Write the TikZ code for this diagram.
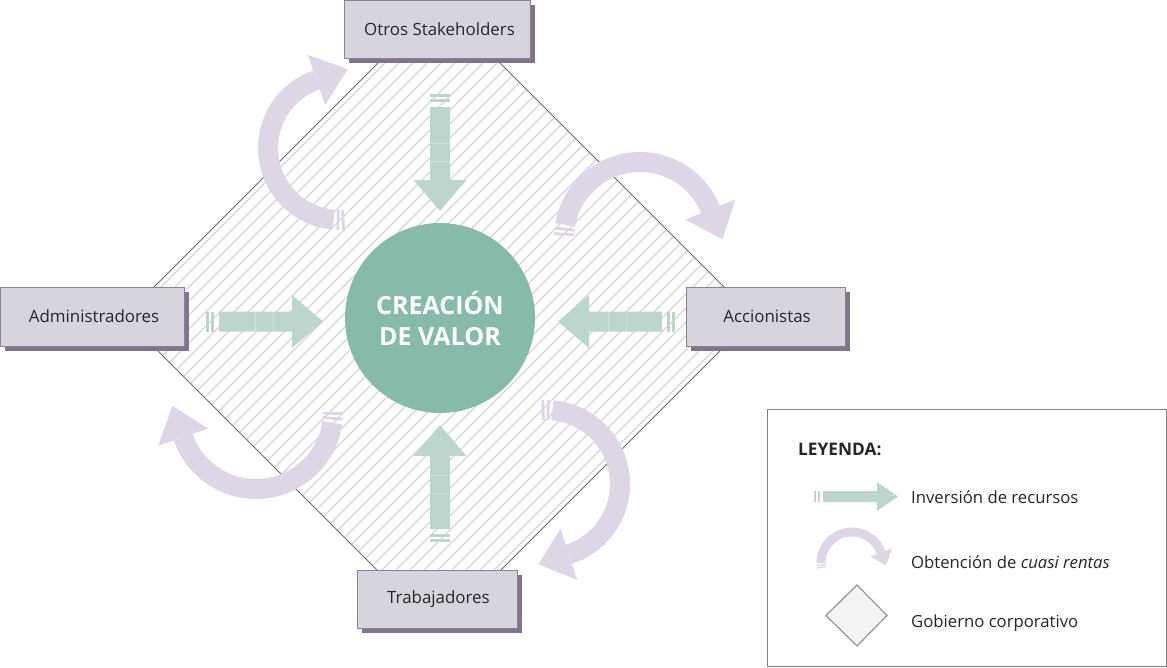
\documentclass[tikz,border=0pt]{standalone}
\usepackage{fontspec}
\setmainfont{Open Sans}
\usetikzlibrary{shadows}
\definecolor{boxfill}{RGB}{216,212,221}
\definecolor{boxdraw}{RGB}{140,128,150}
\definecolor{boxshadow}{RGB}{128,115,138}
\definecolor{invgreen}{RGB}{188,214,206}
\definecolor{cuasicol}{RGB}{222,213,230}
\definecolor{valorgreen}{RGB}{134,187,169}
\definecolor{hatchcol}{RGB}{214,214,214}
\definecolor{diamondline}{RGB}{105,105,115}
\definecolor{legline}{RGB}{128,128,128}
\definecolor{legdiam}{RGB}{150,145,155}
\definecolor{legdiamfill}{RGB}{243,243,243}
\definecolor{txt}{RGB}{38,38,38}
\tikzset{
  stakebox/.style={draw=boxdraw, line width=1pt, fill=boxfill, minimum height=58pt,
    inner sep=0pt, font=\fontsize{16.9}{20}\selectfont, text=txt,
    drop shadow={shadow xshift=5pt, shadow yshift=-5pt, fill=boxshadow, opacity=1}},
  legtext/.style={anchor=base west, inner sep=0pt, text=txt, font=\fontsize{16.7}{20}\selectfont},
  pics/invarrow/.style={code={
    \fill[invgreen] (0,-10) rectangle (3,10);
    \fill[invgreen] (5,-10) rectangle (8,10);
    \fill[invgreen] (13,-10) -- (86,-10) -- (86,-26.5) -- (117,0) -- (86,26.5) -- (86,10) -- (13,10) -- cycle;
    \draw[white, opacity=0.3, line width=0.6pt] (49,-10) -- (49,10) (67,-10) -- (67,10);
  }},
}
% #1 cx, #2 cy, #3 r, #4 start, #5 end, #6 band width, #7 head width, #8 head length
\newcommand\cuasiarc[8]{%
  \draw[cuasicol, line width=#6] ({#1+#3*cos(#4)},{#2+#3*sin(#4)}) arc[start angle=#4, end angle=#5, radius=#3];
  \fill[cuasicol] ({#1+(#3+#7/2)*cos(#5)},{#2+(#3+#7/2)*sin(#5)})
     -- ({#1+(#3-#7/2)*cos(#5)},{#2+(#3-#7/2)*sin(#5)})
     -- ({#1+#3*cos(#5)+#8*sin(#5)},{#2+#3*sin(#5)-#8*cos(#5)}) -- cycle;
  \draw[cuasicol, line width=#6/7] ({#1+(#3-#6/2)*cos(#4+#6*0.22*57.3/#3)},{#2+(#3-#6/2)*sin(#4+#6*0.22*57.3/#3)})
     -- ({#1+(#3+#6/2)*cos(#4+#6*0.22*57.3/#3)},{#2+(#3+#6/2)*sin(#4+#6*0.22*57.3/#3)});
  \draw[cuasicol, line width=#6/7] ({#1+(#3-#6/2)*cos(#4+#6*0.47*57.3/#3)},{#2+(#3-#6/2)*sin(#4+#6*0.47*57.3/#3)})
     -- ({#1+(#3+#6/2)*cos(#4+#6*0.47*57.3/#3)},{#2+(#3+#6/2)*sin(#4+#6*0.47*57.3/#3)});
}
\begin{document}
\begin{tikzpicture}[x=1pt,y=1pt]
\useasboundingbox (0,0) rectangle (1167,-667);
% gobierno corporativo (diamond with hatching)
\begin{scope}
  \clip (439,-2) -- (754,-317) -- (439,-632) -- (124,-317) -- cycle;
  \foreach \s in {-47,...,47}
    \draw[hatchcol, line width=1.3pt] ({439+7*\s-400},{-317-7*\s-400}) -- ++(800,800);
\end{scope}
\draw[diamondline, line width=0.9pt] (439,-2) -- (754,-317) -- (439,-632) -- (124,-317) -- cycle;
% centre
\node[circle, fill=valorgreen, minimum size=190pt, inner sep=0pt, text=white,
      font=\bfseries\fontsize{25}{31}\selectfont, align=center] (valor) at (440,-318) {CREACIÓN\\DE VALOR};
% inversion arrows
\pic at (206,-321.5) {invarrow};
\pic[rotate=180] at (675,-321.5) {invarrow};
\pic[rotate=-90] at (440,-94) {invarrow};
\pic[rotate=90] at (440,-542) {invarrow};
% cuasi rentas arrows
\cuasiarc{340}{-148}{72}{265}{109}{20}{53}{33}
\cuasiarc{640}{-238}{76}{170}{22}{20}{54}{32}
\cuasiarc{546}{-484}{74}{85}{-72}{20}{54}{32}
\cuasiarc{256}{-412}{77}{-8}{-161}{20}{53}{33}
% stakeholders
\node[stakebox, minimum width=186pt] (otros) at (437,-29) {\hspace{5pt}Otros Stakeholders};
\node[stakebox, minimum width=184pt, minimum height=59pt] (admin) at (92,-316.5) {\hspace{4pt}Administradores};
\node[stakebox, minimum width=159pt, minimum height=59pt] (accion) at (765.5,-316.5) {\hspace{3pt}Accionistas};
\node[stakebox, minimum width=160pt] (trab) at (437,-599) {\hspace{3pt}Trabajadores};
% legend
\node[draw=legline, line width=1pt, minimum width=399pt, minimum height=257pt, inner sep=0pt] (leyenda) at (966.5,-537.5) {};
\node[legtext, font=\bfseries\fontsize{17.3}{20}\selectfont] (leytitle) at (798,-455) {LEYENDA:};
\fill[invgreen] (814,-491) rectangle (816,-502);
\fill[invgreen] (817.5,-491) rectangle (819.5,-502);
\fill[invgreen] (823,-491) -- (877,-491) -- (877,-482) -- (898,-496.5) -- (877,-511) -- (877,-502) -- (823,-502) -- cycle;
\node[legtext] (ley1) at (911,-503) {Inversión de recursos};
\cuasiarc{852}{-563}{31}{180}{20}{9}{23}{14}
\node[legtext] (ley2) at (911,-568) {Obtención de \textit{cuasi rentas}};
\draw[legdiam, fill=legdiamfill, line width=1.2pt] (857,-585) -- (887,-615.5) -- (857,-646) -- (826,-615.5) -- cycle;
\node[legtext] (ley3) at (911,-627) {Gobierno corporativo};
\end{tikzpicture}
\end{document}
